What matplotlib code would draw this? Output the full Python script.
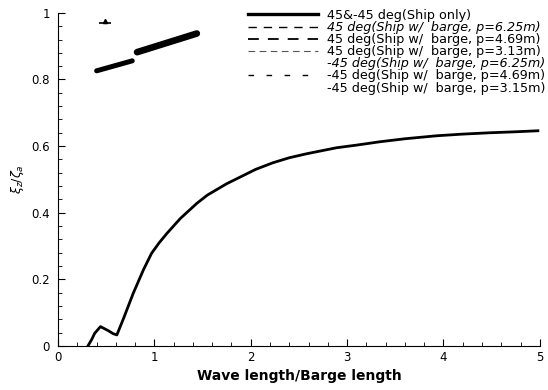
import matplotlib
matplotlib.use('Agg')
import matplotlib.pyplot as plt
from matplotlib.lines import Line2D
from matplotlib.ticker import MultipleLocator

# Ship only response (both headings)
wave_ratio = [0.31, 0.35, 0.38, 0.44, 0.52, 0.57, 0.61, 0.68, 0.78, 0.885, 0.97,
              1.05, 1.13, 1.27, 1.44, 1.55, 1.75, 1.89, 2.05, 2.23, 2.40, 2.58,
              2.89, 3.10, 3.34, 3.60, 3.93, 4.20, 4.48, 4.75, 4.98]
heave_ratio = [0.0, 0.02, 0.038, 0.058, 0.046, 0.037, 0.033, 0.083, 0.158, 0.228, 0.278,
               0.31, 0.338, 0.383, 0.428, 0.453, 0.487, 0.507, 0.53, 0.55, 0.565, 0.577,
               0.595, 0.603, 0.613, 0.622, 0.631, 0.636, 0.640, 0.643, 0.646]

# scanned fragments near the top left
frag1_x = [0.40, 0.77]
frag1_y = [0.826, 0.856]
frag2_x = [0.82, 1.44]
frag2_y = [0.882, 0.938]
mark_x = [0.49]
mark_y = [0.97]

labels = ['45&-45 deg(Ship only)',
          '45 deg(Ship w/  barge, p=6.25m)',
          '45 deg(Ship w/  barge, p=4.69m)',
          '45 deg(Ship w/  barge, p=3.13m)',
          '-45 deg(Ship w/  barge, p=6.25m)',
          '-45 deg(Ship w/  barge, p=4.69m)',
          '-45 deg(Ship w/  barge, p=3.15m)']

fig = plt.figure(figsize=(5.48, 3.9), dpi=100)
ax = fig.add_axes([0.106, 0.113, 0.879, 0.854])

ax.plot(wave_ratio, heave_ratio, color='black', lw=2.0)
ax.plot(frag1_x, frag1_y, color='black', lw=3.6, solid_capstyle='round')
ax.plot(frag2_x, frag2_y, color='black', lw=4.8, solid_capstyle='round')
ax.plot(mark_x, mark_y, marker='_', color='black', ms=8, mew=1.2)
ax.plot(mark_x, [mark_y[0] + 0.006], marker='^', color='black', ms=3)

ax.set_xlim(0, 5)
ax.set_ylim(0, 1)
ax.xaxis.set_major_locator(MultipleLocator(1))
ax.xaxis.set_minor_locator(MultipleLocator(0.2))
ax.yaxis.set_major_locator(MultipleLocator(0.2))
ax.yaxis.set_minor_locator(MultipleLocator(0.04))
ax.set_yticks([0, 0.2, 0.4, 0.6, 0.8, 1])
ax.set_yticklabels(['0', '0.2', '0.4', '0.6', '0.8', '1'])
ax.tick_params(which='both', direction='in', top=False, right=False, labelsize=8.5)
ax.tick_params(which='major', length=5)
ax.tick_params(axis='y', pad=6)
ax.tick_params(which='minor', length=3)
for s in ['top', 'right']:
    ax.spines[s].set_visible(False)

ax.set_xlabel('Wave length/Barge length', fontsize=10, fontweight='bold', labelpad=4)
ax.set_ylabel(r'$\xi_z/\zeta_a$', fontsize=9, labelpad=4)

handles = [
    Line2D([], [], color='black', lw=2.4),
    Line2D([], [], color='black', lw=1.0, dashes=(6, 5)),
    Line2D([], [], color='black', lw=1.3, dashes=(6, 5)),
    Line2D([], [], color='#555555', lw=0.8, dashes=(6, 4)),
    Line2D([], [], color='white', lw=0.0),
    Line2D([], [], color='black', lw=1.0, dashes=(4, 9)),
    Line2D([], [], color='white', lw=0.0),
]
leg = fig.legend(handles, labels, loc='upper right', bbox_to_anchor=(0.995, 0.977),
                 frameon=False, fontsize=9.2, handlelength=5.5, handletextpad=0.7,
                 labelspacing=-0.07, borderpad=0, borderaxespad=0)
for i, t in enumerate(leg.get_texts()):
    if i in (1, 4):
        t.set_fontstyle('italic')

plt.savefig('out.png', dpi=100)
plt.close(fig)
